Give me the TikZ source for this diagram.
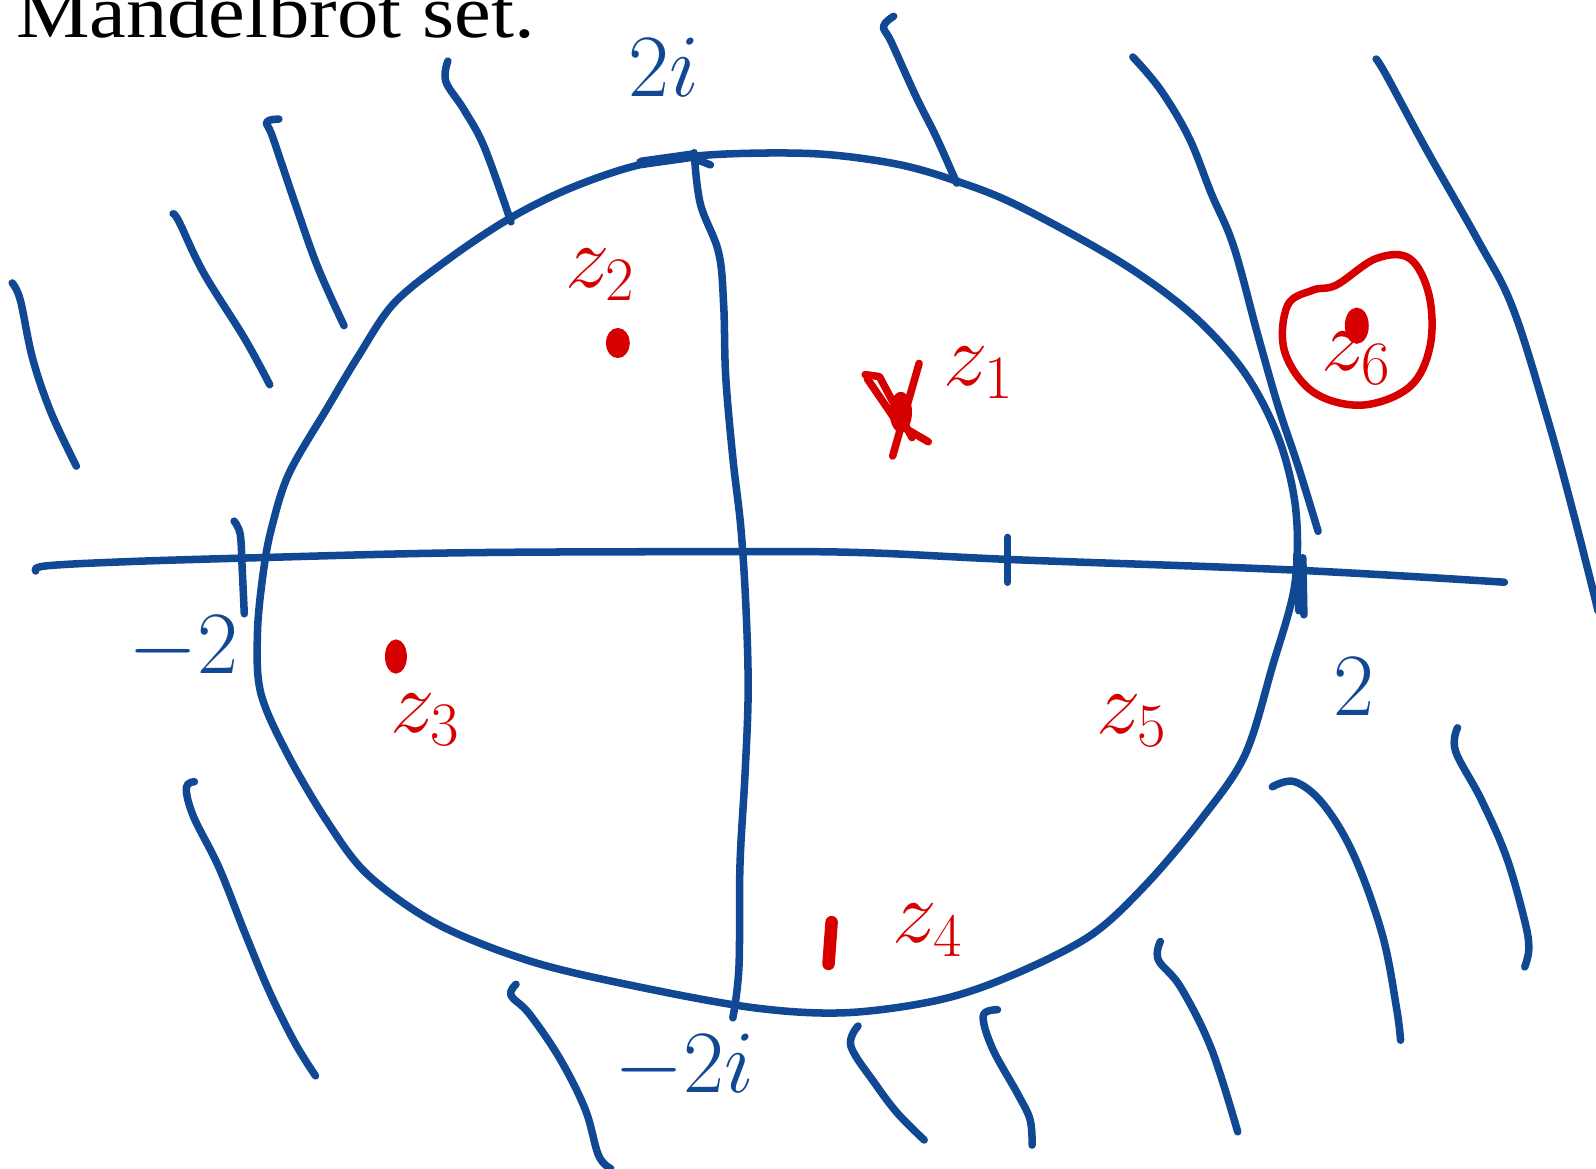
\documentclass[tikz,border=0pt]{standalone}
\usepackage{fontspec}
\setmainfont{Liberation Serif}
\usepackage{amsmath}
\usetikzlibrary{positioning}

\definecolor{penBlue}{RGB}{16,72,148}
\definecolor{penRed}{RGB}{214,0,0}

\begin{document}
\begin{tikzpicture}[
		x=0.01cm, y=-0.01cm,
		% Stroke styles
		blueInk/.style={draw=penBlue, line width=2.1pt, line cap=round, line join=round},
		redInk/.style={draw=penRed, line width=2.1pt, line cap=round, line join=round},
		hatchLine/.style={blueInk},
		% Label styles
		axisLabel/.style={text=penBlue, inner sep=0pt, font=\fontsize{25}{29}\selectfont},
		pointLabel/.style={text=penRed, inner sep=0pt, font=\fontsize{27}{31}\selectfont},
		pointDot/.style={fill=penRed, draw=penRed, line width=1pt}
		]
		
		\useasboundingbox (0,0) rectangle (1568,1148);
		
		% =========================================================
		% 1. TITLE
		% =========================================================
		\node[anchor=base west, inner sep=0pt, font=\fontsize{21}{24}\selectfont, xscale=1.1] (title) at (15,37) {Mandelbrot set.};
		
		% =========================================================
		% 2. THE AXES
		% =========================================================
		
		% Real axis
		\draw[blueInk] plot[smooth, tension=0.6] coordinates {(35,561) (45,556) (120,552) (250,548) (460,543) (730,542) (850,543) (1000,550) (1270,560) (1478,572)};
		
		% Imaginary axis
		\draw[blueInk] plot[smooth, tension=0.6] coordinates {(682,150) (688,200) (706,248) (711,300) (713,370) (720,450) (728,520) (733,600) (735,680) (732,760) (727,850) (726,950) (720,1000)};
		\draw[blueInk] (680,155) -- (698,162);
		\draw[blueInk, line width=3pt] (630,160) -- (680,153);
		
		% Ticks
		\draw[blueInk] (990,528) -- (990,572);
		\draw[blueInk] (1274,545) -- (1276,600);
		\draw[blueInk] (1280,548) -- (1281,604);
		\draw[blueInk] plot[smooth, tension=0.6] coordinates {(230,512) (236,525) (238,560) (240,603)};
		
		% Axis labels
		\node[axisLabel] (twoI) at (652,66) {$2i$};
		\node[axisLabel] (minusTwo) at (180,637) {$-2$};
		\node[axisLabel] (two) at (1330,675) {$2$};
		\node[axisLabel] (minusTwoI) at (672,1048) {$-2i$};
		
		% =========================================================
		% 3. THE DISK OF RADIUS 2
		% =========================================================
		\draw[blueInk] plot[smooth cycle, tension=0.55] coordinates {
			(700,152) (800,151) (880,161) (940,178) (1000,202) (1100,257) (1170,308)
			(1222,365) (1256,430) (1273,500) (1272,575) (1250,655) (1223,742)
			(1180,805) (1125,870) (1070,920) (990,960) (920,983) (830,995)
			(740,990) (620,968) (520,944) (430,908) (362,860) (322,808)
			(282,740) (256,680) (253,620) (259,560) (267,518) (284,465)
			(322,400) (352,350) (387,298) (440,255) (500,215) (560,185) (628,162)};
		
		% =========================================================
		% 4. HATCHING OUTSIDE THE DISK
		% =========================================================
		\draw[hatchLine] plot[smooth, tension=0.6] coordinates {(440,60) (438,80) (456,108) (476,145) (502,218)};
		\draw[hatchLine] plot[smooth, tension=0.6] coordinates {(274,117) (262,120) (268,135) (290,200) (312,262) (338,320)};
		\draw[hatchLine] plot[smooth, tension=0.6] coordinates {(170,210) (176,218) (200,268) (240,332) (265,378)};
		\draw[hatchLine] plot[smooth, tension=0.6] coordinates {(12,278) (20,295) (32,352) (50,405) (75,458)};
		\draw[hatchLine] plot[smooth, tension=0.6] coordinates {(878,16) (868,26) (876,42) (900,95) (920,135) (940,180)};
		\draw[hatchLine] plot[smooth, tension=0.6] coordinates {(1113,56) (1140,88) (1168,135) (1190,190) (1212,242) (1236,330) (1256,400) (1276,460) (1295,522)};
		\draw[hatchLine] plot[smooth, tension=0.6] coordinates {(1352,58) (1362,74) (1402,148) (1452,236) (1486,302) (1520,410) (1546,505) (1570,600)};
		\draw[hatchLine] plot[smooth, tension=0.6] coordinates {(1432,715) (1430,738) (1455,785) (1480,842) (1498,905) (1502,932) (1498,950)};
		\draw[hatchLine] plot[smooth, tension=0.6] coordinates {(1250,773) (1272,768) (1300,790) (1330,840) (1358,918) (1372,990) (1376,1022)};
		\draw[hatchLine] plot[smooth, tension=0.6] coordinates {(1140,925) (1138,943) (1160,970) (1190,1030) (1216,1112)};
		\draw[hatchLine] plot[smooth, tension=0.6] coordinates {(980,992) (966,998) (975,1030) (1000,1075) (1012,1100) (1014,1125)};
		\draw[hatchLine] plot[smooth, tension=0.6] coordinates {(843,1008) (836,1028) (860,1065) (882,1094) (908,1120)};
		\draw[hatchLine] plot[smooth, tension=0.6] coordinates {(507,967) (502,978) (520,996) (550,1040) (575,1090) (588,1135) (600,1148)};
		\draw[hatchLine] plot[smooth, tension=0.6] coordinates {(191,768) (183,774) (190,802) (215,852) (240,915) (265,975) (290,1025) (310,1057)};
		
		% =========================================================
		% 5. THE POINTS z_1 ... z_6
		% =========================================================
		
		% z_1 (cross)
		\draw[redInk] (850,368) -- (864,370) -- (896,430);
		\draw[redInk] (852,372) -- (878,410);
		\draw[redInk] (903,357) -- (877,448);
		\draw[redInk] (888,420) -- (912,434);
		\fill[penRed] (885,405) ellipse (11 and 20);
		\node[pointLabel] (zOne) at (962,366) {$z_1$};
		
		% z_2
		\draw[pointDot] (607,337) ellipse (10 and 13);
		\node[pointLabel] (zTwo) at (590,270) {$z_2$};
		
		% z_3
		\draw[pointDot] (389,645) ellipse (9 and 15);
		\node[pointLabel] (zThree) at (418,707) {$z_3$};
		
		% z_4
		\draw[redInk, line width=3.5pt] (817,906) -- (814,947);
		\node[pointLabel] (zFour) at (912,914) {$z_4$};
		
		% z_5
		\node[pointLabel] (zFive) at (1112,708) {$z_5$};
		
		% z_6 (circled)
		\draw[pointDot] (1333,320) ellipse (10 and 16);
		\node[pointLabel] (zSix) at (1333,352) {$z_6$};
		\draw[redInk] plot[smooth cycle, tension=0.6] coordinates {(1313,280) (1352,254) (1385,254) (1404,290) (1405,340) (1385,380) (1338,398) (1290,385) (1262,345) (1265,300) (1290,285)};
		
	\end{tikzpicture}
\end{document}
